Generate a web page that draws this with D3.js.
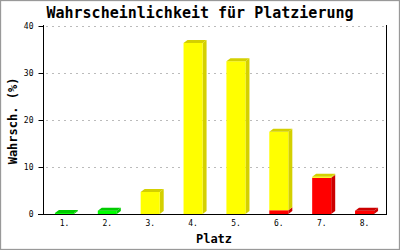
<!DOCTYPE html>
<html><head><meta charset="utf-8">
<script src="https://cdn.jsdelivr.net/npm/d3@7"></script>
<style>body{margin:0;background:#fff}svg{display:block}</style>
</head><body>
<script>
const categories = ["1.","2.","3.","4.","5.","6.","7.","8."];
const green  = [0.2, 0.7, 0, 0, 0, 0, 0, 0];
const red    = [0, 0, 0, 0, 0, 0.8, 7.7, 0.7];
const yellow = [0, 0, 4.7, 36.4, 32.5, 16.7, 0.2, 0];
const yTicks = [0, 10, 20, 30, 40];
const title = "Wahrscheinlichkeit für Platzierung";
const xTitle = "Platz";
const yTitle = "Wahrsch. (%)";

(function(){
const W = 400, H = 250;
const svg = d3.select("body").append("svg").attr("width", W).attr("height", H);
svg.append("rect").attr("x",0.5).attr("y",0.5).attr("width",W-1).attr("height",H-1)
  .attr("fill","#fff").attr("stroke","#999").attr("stroke-width",1.3);

const pL = 43, pR = 386, pT = 25, pB = 214;
const x = d3.scaleBand().domain(categories).range([pL, pR]).paddingInner(0.556).paddingOuter(0.278);
const y = d3.scaleLinear().domain([0, 40]).range([pB, 26]);
const font = "'DejaVu Sans Mono', monospace";

svg.append("g").selectAll("line").data(yTicks.filter(d => d > 0)).join("line")
  .attr("x1", pL + 3).attr("x2", pR).attr("y1", d => y(d) + 0.5).attr("y2", d => y(d) + 0.5)
  .attr("stroke", "#bbb").attr("stroke-dasharray", "2,4");

const series = [
  {key:"red", vals:red, front:"#ff0000", dark:"#cc0000"},
  {key:"green", vals:green, front:"#00ff00", dark:"#00cc00"},
  {key:"yellow", vals:yellow, front:"#ffff00", dark:"#d4d000"}
];
const dx = 4, dy = 3;
const g = svg.append("g");
categories.forEach((c, i) => {
  let base = 0;
  const segs = [];
  series.forEach(s => {
    const v = s.vals[i];
    if (v > 0) { segs.push({s, y0: base, y1: base + v}); base += v; }
  });
  const x0 = x(c), bw = x.bandwidth();
  segs.forEach((seg, k) => {
    const yt = y(seg.y1), yb = y(seg.y0);
    g.append("path").attr("d", `M${x0+bw},${yb} L${x0+bw+dx},${yb-dy} L${x0+bw+dx},${yt-dy} L${x0+bw},${yt} Z`)
      .attr("fill", seg.s.dark);
    g.append("rect").attr("x", x0).attr("y", yt).attr("width", bw).attr("height", yb - yt)
      .attr("fill", seg.s.front);
    if (k === segs.length - 1) {
      g.append("path").attr("d", `M${x0},${yt} L${x0+dx},${yt-dy} L${x0+bw+dx},${yt-dy} L${x0+bw},${yt} Z`)
        .attr("fill", seg.s.dark);
    }
  });
});

const yAxis = d3.axisLeft(y).tickValues(yTicks).tickSize(5).tickPadding(5);
const ya = svg.append("g").attr("transform", `translate(${pL + 0.5},0)`).call(yAxis);
ya.select(".domain").attr("d", `M0,${pT} V${pB}`).attr("stroke", "#000");
ya.selectAll(".tick line").attr("stroke", "#000");
ya.selectAll("text").attr("font-family", font).attr("font-size", 8).attr("fill", "#000");

svg.append("line").attr("x1", pR + 0.5).attr("x2", pR + 0.5).attr("y1", pT).attr("y2", pB)
  .attr("stroke", "#000");

const xAxis = d3.axisBottom(x).tickSize(0).tickPadding(6);
const xa = svg.append("g").attr("transform", `translate(0,${pB + 0.5})`).call(xAxis);
xa.select(".domain").attr("d", `M${pL - 5},0 H${pR + 1}`).attr("stroke", "#000");
xa.selectAll("text").attr("font-family", font).attr("font-size", 8).attr("fill", "#000");

svg.append("text").attr("x", 200).attr("y", 18).attr("text-anchor", "middle")
  .attr("font-family", font).attr("font-weight", "bold").attr("font-size", 15).text(title);
svg.append("text").attr("x", 214).attr("y", 243).attr("text-anchor", "middle")
  .attr("font-family", font).attr("font-weight", "bold").attr("font-size", 12).text(xTitle);
svg.append("text").attr("transform", "translate(17,121) rotate(-90)").attr("text-anchor", "middle")
  .attr("font-family", font).attr("font-weight", "bold").attr("font-size", 12).text(yTitle);
})();
</script>
</body></html>
